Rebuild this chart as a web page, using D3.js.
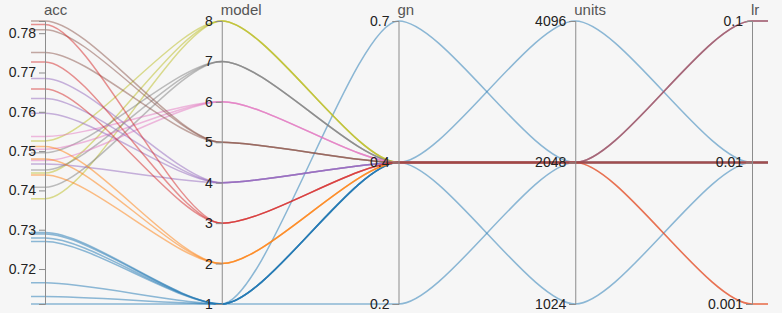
<!DOCTYPE html>
<html>
<head>
<meta charset="utf-8">
<script src="https://cdn.jsdelivr.net/npm/d3@7"></script>
<style>
  html, body { margin: 0; padding: 0; background: #f6f6f6; }
  .axis text { font-family: "Liberation Sans", Arial, sans-serif; font-size: 14px; fill: #222; }
  .title { font-family: "Liberation Sans", Arial, sans-serif; font-size: 15px; fill: #555; }
</style>
</head>
<body>
<div id="wrapper"></div>
<script>
// Data: one entry per run
const dimensionNames = ["acc", "model", "gn", "units", "lr"];
const runModel = [1, 1, 1, 1, 1, 1, 1, 2, 2, 2, 3, 3, 3, 4, 4, 4, 4, 5, 5, 5, 6, 6, 6, 7, 7, 7, 8, 8, 8];
const runGn = ["0.4", "0.4", "0.4", "0.7", "0.2", "0.4", "0.4", "0.4", "0.4", "0.4", "0.4", "0.4", "0.4", "0.4", "0.4",
  "0.4", "0.4", "0.4", "0.4", "0.4", "0.4", "0.4", "0.4", "0.4", "0.4", "0.4", "0.4", "0.4", "0.4"];
const runUnits = ["2048", "2048", "2048", "2048", "2048", "4096", "1024", "2048", "2048", "2048", "2048", "2048", "2048",
  "2048", "2048", "2048", "2048", "2048", "2048", "2048", "2048", "2048", "2048", "2048", "2048", "2048", "2048", "2048", "2048"];
const runLr = ["0.01", "0.01", "0.01", "0.01", "0.01", "0.01", "0.01",
  "0.01", "0.01", "0.001",
  "0.01", "0.001", "0.1",
  "0.1", "0.01", "0.01", "0.01",
  "0.01", "0.01", "0.1",
  "0.01", "0.01", "0.01",
  "0.01", "0.01", "0.01",
  "0.01", "0.01", "0.01"];
const runAcc = [0.7293, 0.7289, 0.7279, 0.7270, 0.7165, 0.7130, 0.7111,
  0.7512, 0.7480, 0.7439,
  0.7822, 0.7727, 0.7658,
  0.7685, 0.7634, 0.7596, 0.7467,
  0.7831, 0.7809, 0.7751,
  0.7537, 0.7505, 0.7476,
  0.7496, 0.7452, 0.7408,
  0.7526, 0.7444, 0.7379];

// Tick labels for the categorical axes
const modelTicks = [1, 2, 3, 4, 5, 6, 7, 8];
const gnTicks = ["0.2", "0.4", "0.7"];
const unitsTicks = ["1024", "2048", "4096"];
const lrTicks = ["0.001", "0.01", "0.1"];
const modelColors = ["#1f77b4", "#ff7f0e", "#d62728", "#9467bd", "#8c564b", "#e377c2", "#7f7f7f", "#bcbd22"];

const WIDTH = 782;
const HEIGHT = 313;
const AXIS_LEFT = 45;
const AXIS_RIGHT = 752;
const TOP = 21;
const BOTTOM = 304;
const AXIS_COLOR = "#8c8c8c";
const CURVE_PULL = 0.25; // control point offset, as a share of the gap between axes

// best runs drawn last, on top
const runs = runAcc.map((acc, i) => ({
  acc, model: runModel[i], gn: runGn[i], units: runUnits[i], lr: runLr[i]
})).sort((a, b) => a.acc - b.acc);

const svg = d3.select("#wrapper")
  .append("svg")
  .attr("width", WIDTH)
  .attr("height", HEIGHT);

const xScale = d3.scalePoint()
  .domain(dimensionNames)
  .range([AXIS_LEFT, AXIS_RIGHT]);

const yScales = {
  acc: d3.scaleLinear().domain(d3.extent(runAcc)).range([BOTTOM, TOP]),
  model: d3.scaleLinear().domain(d3.extent(modelTicks)).range([BOTTOM, TOP]),
  gn: d3.scalePoint().domain(gnTicks).range([BOTTOM, TOP]),
  units: d3.scalePoint().domain(unitsTicks).range([BOTTOM, TOP]),
  lr: d3.scalePoint().domain(lrTicks).range([BOTTOM, TOP]),
};

const color = d3.scaleOrdinal().domain(modelTicks).range(modelColors);

// Lines: a bezier between each pair of axes, flat stubs past the ends
const runPath = d => {
  const pts = dimensionNames.map(name => [xScale(name), yScales[name](d[name])]);
  const p = d3.path();
  p.moveTo(AXIS_LEFT - 14, pts[0][1]);
  p.lineTo(pts[0][0], pts[0][1]);
  for (let i = 1; i < pts.length; i++) {
    const [x0, y0] = pts[i - 1];
    const [x1, y1] = pts[i];
    const k = (x1 - x0) * CURVE_PULL;
    p.bezierCurveTo(x0 + k, y0, x1 - k, y1, x1, y1);
  }
  p.lineTo(AXIS_RIGHT + 16, pts[pts.length - 1][1]);
  return p.toString();
};

svg.append("g")
  .selectAll("path")
  .data(runs)
  .join("path")
  .attr("d", runPath)
  .attr("fill", "none")
  .attr("stroke", d => color(d.model))
  .attr("stroke-width", 1.5)
  .attr("stroke-opacity", 0.5);

// Axes
dimensionNames.forEach(name => {
  const axis = d3.axisLeft(yScales[name]);
  if (name === "acc") axis.ticks(10);
  if (name === "model") axis.tickValues(modelTicks).tickFormat(d3.format("d"));
  const g = svg.append("g")
    .attr("class", "axis")
    .attr("transform", `translate(${xScale(name)},0)`)
    .call(axis);
  g.select(".domain").attr("stroke", AXIS_COLOR);
  g.selectAll(".tick line").attr("stroke", AXIS_COLOR);
  svg.append("text")
    .attr("class", "title")
    .attr("x", xScale(name) - 1)
    .attr("y", 15)
    .text(name);
});
</script>
</body>
</html>
